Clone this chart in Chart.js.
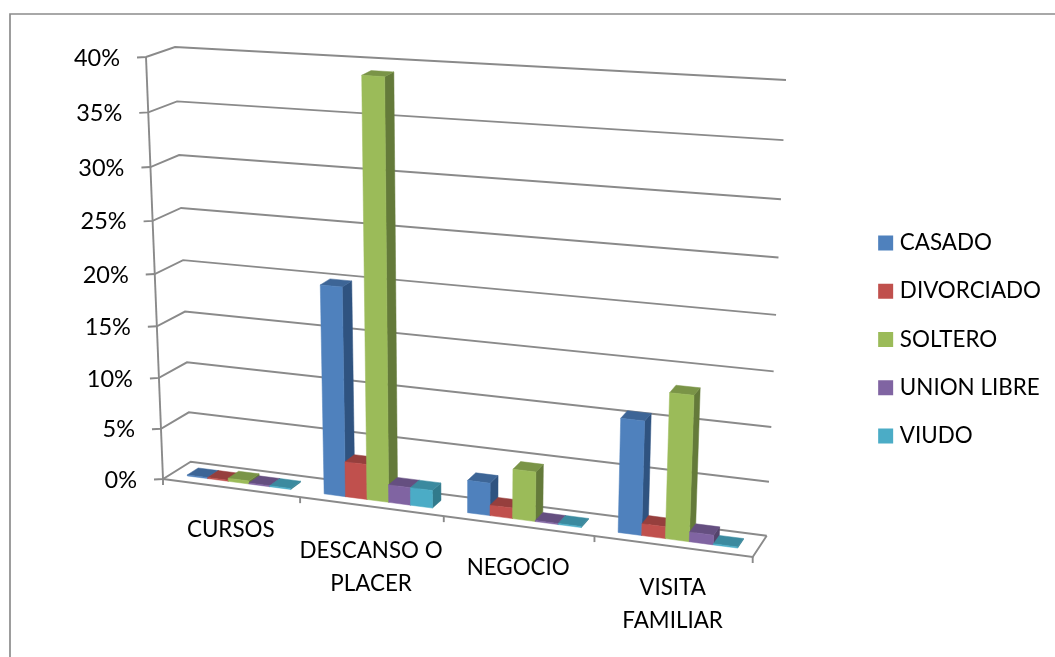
<!DOCTYPE html>
<html><head><meta charset="utf-8">
<script src="https://cdn.jsdelivr.net/npm/chart.js@4"></script>
<style>html,body{margin:0;padding:0;background:#fff}canvas{display:block}</style>
</head><body>
<canvas id="c" width="1055" height="657" style="width:1055px;height:657px"></canvas>
<script>
const categories = ['CURSOS', ['DESCANSO O', 'PLACER'], 'NEGOCIO', ['VISITA', 'FAMILIAR']];
const casado     = [0.1, 20.0, 3.1, 10.6];
const divorciado = [0.1, 3.4, 1.0, 1.1];
const soltero    = [0.3, 39.2, 4.7, 13.4];
const unionLibre = [0.1, 1.7, 0.1, 0.9];
const viudo      = [0.1, 1.7, 0.1, 0.1];
const seriesNames = ['CASADO', 'DIVORCIADO', 'SOLTERO', 'UNION LIBRE', 'VIUDO'];
const seriesValues = [casado, divorciado, soltero, unionLibre, viudo];
const frontColors = ['#4F81BD', '#C0504D', '#9BBB59', '#8064A2', '#4BACC6'];
const topColors   = ['#3D6596', '#963F3D', '#7A9447', '#654F80', '#3B8A9F'];
const sideColors  = ['#2F5380', '#7F3432', '#647A3A', '#54436B', '#317A8C'];

const FONT = 'Lato, Carlito, sans-serif';
const GRID = '#8A8A8A';
// picture-plane corners of the 3D box: [u0v0, u1v0, u1v1, u0v1]
const frontQuad = [[163,479],[752.7,557],[772,95],[146,57]];
const backQuad  = [[190.7,461.7],[766.7,535.7],[786,80],[175,47]];
const BAR_Z0 = 0.30, BAR_Z1 = 0.70;
const labelNudge = [0, 3, 0, 0];

function homography(q){
  const [[x0,y0],[x1,y1],[x2,y2],[x3,y3]] = q;
  const dx1=x1-x2, dx2=x3-x2, sx=x0-x1+x2-x3;
  const dy1=y1-y2, dy2=y3-y2, sy=y0-y1+y2-y3;
  const den=dx1*dy2-dx2*dy1;
  const g=(sx*dy2-dx2*sy)/den, h=(dx1*sy-sx*dy1)/den;
  return {a:x1-x0+g*x1,b:x3-x0+h*x3,c:x0,d:y1-y0+g*y1,e:y3-y0+h*y3,f:y0,g,h};
}
function proj(u,v,z){
  const q=frontQuad.map((p,i)=>[p[0]+(backQuad[i][0]-p[0])*z,p[1]+(backQuad[i][1]-p[1])*z]);
  const m=homography(q), w=m.g*u+m.h*v+1;
  return [(m.a*u+m.b*v+m.c)/w,(m.d*u+m.e*v+m.f)/w];
}
function poly(ctx,pts,fill){
  ctx.beginPath();pts.forEach((p,i)=>i?ctx.lineTo(p[0],p[1]):ctx.moveTo(p[0],p[1]));ctx.closePath();
  ctx.fillStyle=fill;ctx.fill();ctx.strokeStyle=fill;ctx.lineWidth=0.5;ctx.stroke();
}
function line(ctx,pts){
  ctx.beginPath();pts.forEach((p,i)=>i?ctx.lineTo(p[0],p[1]):ctx.moveTo(p[0],p[1]));ctx.stroke();
}
const box3d = {
  id:'box3d',
  beforeDatasetsDraw(chart){
    const ctx=chart.ctx, A=chart.chartArea, X=chart.scales.x, Y=chart.scales.y;
    const nu=px=>(px-A.left)/(A.right-A.left), nv=py=>(A.bottom-py)/(A.bottom-A.top);
    ctx.save();
    // outer frame
    ctx.strokeStyle='#8C8C8C';ctx.lineWidth=1.7;
    line(ctx,[[10,700],[10,14],[1100,14]]);
    // walls, floor, axes
    ctx.strokeStyle=GRID;ctx.lineWidth=1.9;ctx.lineJoin='miter';
    Y.ticks.forEach(t=>{
      const v=nv(Y.getPixelForValue(t.value));
      const f=proj(0,v,0);
      line(ctx,[[f[0]-9,f[1]+0.5],f,proj(0,v,1),proj(1,v,1)]);
      ctx.fillStyle='#000';ctx.font='23.5px '+FONT;ctx.textAlign='right';ctx.textBaseline='middle';
      ctx.fillText(t.label,f[0]-26,f[1]+1);
    });
    line(ctx,[proj(0,0,0),proj(0,1,0)]);
    line(ctx,[proj(0,0,0),proj(1,0,0),proj(1,0,1)]);
    for(let i=0;i<=categories.length;i++){
      const p=proj(i/categories.length,0,0);
      line(ctx,[p,[p[0],p[1]+6]]);
    }
    // category labels
    ctx.fillStyle='#000';ctx.font='22.4px '+FONT;ctx.textAlign='center';ctx.textBaseline='middle';
    X.ticks.forEach((t,i)=>{
      const p=proj(nu(X.getPixelForTick(i)),0,0);
      [].concat(t.label).forEach((s,k)=>ctx.fillText(s,p[0],p[1]+41.5+labelNudge[i]+k*32.5));
    });
    // bars
    const nCat=categories.length;
    for(let j=0;j<nCat;j++){
      chart.data.datasets.forEach((ds,d)=>{
        const el=chart.getDatasetMeta(d).data[j];
        const b=el.getProps(['x','y','base','width'],true);
        const u0=nu(b.x-b.width/2),u1=nu(b.x+b.width/2),v0=nv(b.base),v1=nv(b.y);
        const z0=BAR_Z0,z1=BAR_Z1;
        poly(ctx,[proj(u1,v0,z0),proj(u1,v0,z1),proj(u1,v1,z1),proj(u1,v1,z0)],sideColors[d]);
        poly(ctx,[proj(u0,v1,z0),proj(u1,v1,z0),proj(u1,v1,z1),proj(u0,v1,z1)],topColors[d]);
        poly(ctx,[proj(u0,v0,z0),proj(u1,v0,z0),proj(u1,v1,z0),proj(u0,v1,z0)],frontColors[d]);
      });
    }
    ctx.restore();
    return false;
  }
};
new Chart(document.getElementById('c'),{
  type:'bar',
  data:{labels:categories,datasets:seriesNames.map((n,i)=>({label:n,data:seriesValues[i],backgroundColor:frontColors[i],categoryPercentage:0.76,barPercentage:1}))},
  plugins:[box3d],
  options:{
    responsive:false,animation:false,
    layout:{padding:{top:22,right:4,left:0,bottom:0}},
    scales:{
      x:{display:false,grid:{display:false}},
      y:{display:false,min:0,max:40,grid:{display:false},ticks:{stepSize:5,callback:v=>v+'%'}}
    },
    plugins:{
      tooltip:{enabled:false},
      legend:{position:'right',align:'center',labels:{
        color:'#000',font:{family:FONT,size:22.4},boxWidth:6,boxHeight:6,padding:25.9,
        generateLabels:c=>c.data.datasets.map((ds,i)=>({text:ds.label,fillStyle:frontColors[i],strokeStyle:frontColors[i],lineWidth:9,lineJoin:'miter',datasetIndex:i,hidden:false}))
      }}
    }
  }
});
</script>
</body></html>
